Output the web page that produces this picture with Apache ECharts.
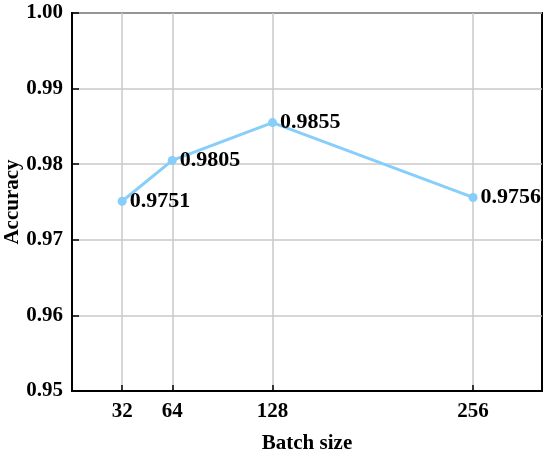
<!DOCTYPE html>
<html>
<head>
<meta charset="utf-8">
<script src="https://cdn.jsdelivr.net/npm/echarts@6/dist/echarts.min.js"></script>
<style>
  html, body { margin: 0; padding: 0; background: #fff; }
  #chart { width: 550px; height: 455px; }
</style>
</head>
<body>
<div id="chart"></div>
<script>
// 数据
const batchSizes = [32, 64, 128, 256];
const accuracy = [0.9751, 0.9805, 0.9855, 0.9756];
const xTicks = [32, 64, 128, 256];

const FONT = '"Liberation Serif", "Times New Roman", serif';

const chart = echarts.init(document.getElementById('chart'));

const option = {
    animation: false,
    grid: {
        left: 72,
        right: 8,
        top: 13,
        bottom: 64,
        containLabel: false,
        outerBoundsMode: 'none',
        show: true,
        borderColor: '#000',
        borderWidth: 2
    },
    xAxis: {
        type: 'value',
        min: 0,
        max: 300,
        name: 'Batch size',
        nameLocation: 'middle',
        nameGap: 42,
        nameMoveOverlap: false,
        nameTextStyle: { fontFamily: FONT, fontWeight: 'bold', fontSize: 21, color: '#000' },
        axisLine: { show: true, lineStyle: { color: '#000', width: 2 } },
        axisTick: { show: true, inside: true, length: 6, customValues: xTicks, lineStyle: { color: '#000', width: 1.5 } },
        axisLabel: { customValues: xTicks, margin: 10, fontFamily: FONT, fontWeight: 'bold', fontSize: 21, color: '#000' },
        splitLine: { show: true, lineStyle: { color: '#c8c8c8', width: 1.5 } }
    },
    yAxis: {
        type: 'value',
        min: 0.95,
        max: 1.0,
        interval: 0.01,
        name: 'Accuracy',
        nameLocation: 'middle',
        nameGap: 49,
        nameMoveOverlap: false,
        nameTextStyle: { fontFamily: FONT, fontWeight: 'bold', fontSize: 21, color: '#000' },
        axisLine: { show: true, lineStyle: { color: '#000', width: 2 } },
        axisTick: { show: true, inside: true, length: 7, lineStyle: { color: '#000', width: 1.5 } },
        axisLabel: {
            margin: 9,
            fontFamily: FONT, fontWeight: 'bold', fontSize: 21, color: '#000',
            formatter: v => v.toFixed(2)
        },
        splitLine: { show: true, lineStyle: { color: '#c8c8c8', width: 1.5 } }
    },
    series: [{
        type: 'line',
        data: batchSizes.map((b, i) => [b, accuracy[i]]),
        symbol: 'circle',
        symbolSize: 9,
        itemStyle: { color: '#87CEFA' },
        lineStyle: { color: '#87CEFA', width: 3 },
        label: {
            show: true,
            position: 'right',
            distance: 3,
            fontFamily: FONT,
            fontWeight: 'bold',
            fontSize: 22,
            color: '#000',
            formatter: p => p.value[1].toFixed(4)
        }
    }]
};

chart.setOption(option);
</script>
</body>
</html>
